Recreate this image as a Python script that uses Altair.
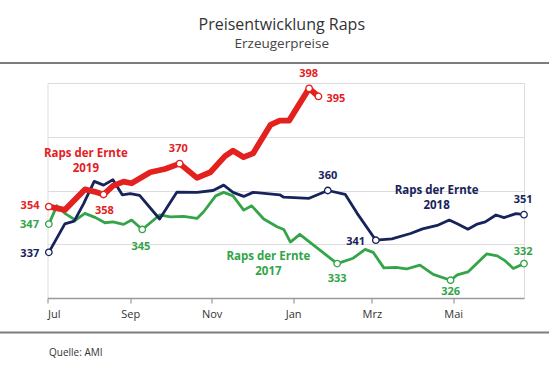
import altair as alt
import pandas as pd

# ---- data (days counted from 1 July; values in EUR/t) ----
red_days = [1, 13, 28, 35, 42, 49, 57, 63, 77, 88, 99, 112, 122, 133, 139, 147, 154, 167, 174, 181, 196, 203]
red_vals = [354, 352.8, 360.4, 359.6, 358.5, 361.7, 363.3, 362.7, 366.8, 368, 370, 364.7, 366.8, 372.8, 374.8, 372.4, 373.8, 384.4, 386, 386, 398, 395]

navy_days = [1, 13, 20, 27, 35, 42, 49, 56, 62, 69, 84, 97, 112, 124, 132, 139, 147, 154, 174, 177, 196, 210, 223, 232, 246, 258, 272, 281, 292, 301, 307, 315, 322, 328, 336, 342, 351, 357]
navy_vals = [337, 347.6, 348.6, 355, 363.4, 362, 364, 358.4, 358.8, 358.2, 349.4, 359.4, 359.3, 360, 362, 359.3, 357.8, 359.3, 358.4, 357.5, 357.1, 360, 358.6, 351.5, 341.5, 342, 344, 345.7, 347, 349, 347.6, 345.6, 347.5, 348.3, 350.9, 349.9, 351.4, 351]

green_days = [1, 7, 13, 21, 28, 36, 43, 49, 57, 63, 71, 84, 92, 102, 112, 117, 126, 132, 139, 147, 153, 162, 172, 177, 182, 189, 217, 229, 238, 244, 252, 261, 269, 279, 289, 302, 307, 315, 329, 337, 343, 349, 357]
green_vals = [347.5, 354.3, 351.5, 349, 351.5, 349.9, 348, 348.3, 347.4, 349, 345.5, 350.9, 350.2, 350.4, 349.6, 352.1, 358, 359.3, 358, 352.7, 354.3, 349.4, 346.5, 345.5, 340.8, 343.7, 332.8, 334.8, 338.1, 337, 331.2, 331.4, 330.8, 332.2, 328.8, 326.6, 328.6, 329.7, 336.4, 335.7, 333.8, 331, 332.8]

series_names = ["Raps der Ernte 2019", "Raps der Ernte 2018", "Raps der Ernte 2017"]
series_colors = ["#e3211f", "#17235b", "#33a448"]

tick_labels = ["Jul", "Sep", "Nov", "Jan", "Mrz", "Mai"]
tick_dates = ["2018-07-01", "2018-09-01", "2018-11-01", "2019-01-01", "2019-03-01", "2019-05-01"]
start = pd.Timestamp("2018-07-01")
tick_days = [(pd.Timestamp(d) - start).days for d in tick_dates]

# marked points (day, value) per series
mark_series = [0, 0, 0, 0, 0, 1, 1, 1, 1, 2, 2, 2, 2, 2]
mark_days = [1, 42, 99, 196, 203, 1, 210, 246, 357, 1, 71, 217, 302, 357]
mark_vals = [354, 358.5, 370, 398, 395, 337, 360, 341.5, 351, 347.5, 345.5, 332.8, 326.6, 332.8]

# value labels: text, anchor position (day, value), alignment
lab_text = ["354", "358", "370", "398", "395", "337", "360", "341", "351", "347", "345", "333", "326", "332"]
lab_series = mark_series
lab_days = [-6, 42.6, 98, 195.6, 209, -6.2, 210, 238, 356.4, -6.4, 70, 217, 302, 356.4]
lab_vals = [354.2, 352.3, 375.3, 403.2, 394, 336.5, 365.3, 340.9, 356.3, 347.2, 338.8, 327.2, 322.2, 337.3]
lab_align = ["right", "center", "center", "center", "left", "right", "center", "right", "center", "right", "center", "center", "center", "center"]

# series name labels (two lines each)
name_text = ["Raps der Ernte", "2019", "Raps der Ernte", "2018", "Raps der Ernte", "2017"]
name_series = [0, 0, 1, 1, 2, 2]
name_days = [28.7, 28.7, 291.5, 291.5, 165.5, 165.5]
name_vals = [373.5, 367.9, 359.7, 354.1, 335.1, 329.5]

source_text = "Quelle: AMI"

# ---- build tables ----
def line_df(days, vals, idx):
    return pd.DataFrame({"day": days, "val": vals, "series": series_names[idx]})

red_df = line_df(red_days, red_vals, 0)
navy_df = line_df(navy_days, navy_vals, 1)
green_df = line_df(green_days, green_vals, 2)

marks_df = pd.DataFrame({"day": mark_days, "val": mark_vals,
                         "series": [series_names[i] for i in mark_series]})
labels_df = pd.DataFrame({"day": lab_days, "val": lab_vals, "text": lab_text,
                          "series": [series_names[i] for i in lab_series], "align": lab_align})
names_df = pd.DataFrame({"day": name_days, "val": name_vals, "text": name_text,
                         "series": [series_names[i] for i in name_series]})
one_df = pd.DataFrame({"text": [source_text]})

FONT = "Open Sans"
W, H = 476.5, 215

label_expr = "{" + ",".join(f"'{d}':'{l}'" for d, l in zip(tick_days, tick_labels)) + "}[datum.value]"

x_enc = alt.X("day:Q",
              scale=alt.Scale(domain=[0, 357], nice=False, zero=False),
              axis=alt.Axis(values=tick_days, labelExpr=label_expr, title=None, grid=False,
                            domainColor="#9a9a9a", domainWidth=1.5, tickColor="#9a9a9a",
                            tickWidth=1.2, tickSize=5, labelFont=FONT, labelFontSize=11,
                            labelColor="#333333", labelPadding=5))
y_enc = alt.Y("val:Q",
              scale=alt.Scale(domain=[320, 400], nice=False, zero=False),
              axis=alt.Axis(values=[340, 360, 380, 400], labels=False, ticks=False,
                            domain=False, title=None, grid=True, gridColor="#dcdcdc",
                            gridWidth=1))
col = alt.Color("series:N", scale=alt.Scale(domain=series_names, range=series_colors), legend=None)
stk = alt.Stroke("series:N", scale=alt.Scale(domain=series_names, range=series_colors), legend=None)

grid_layer = alt.Chart(green_df).mark_line(opacity=0).encode(x=x_enc, y=y_enc)

green_line = alt.Chart(green_df).mark_line(strokeWidth=2.8, strokeJoin="round").encode(
    x="day:Q", y="val:Q", color=col)
navy_line = alt.Chart(navy_df).mark_line(strokeWidth=2.8, strokeJoin="round").encode(
    x="day:Q", y="val:Q", color=col)
red_line = alt.Chart(red_df).mark_line(strokeWidth=5.8, strokeJoin="round").encode(
    x="day:Q", y="val:Q", color=col)

points = alt.Chart(marks_df).mark_point(shape="circle", size=42, filled=False, fill="white",
                                        fillOpacity=1, opacity=1, strokeWidth=1.3).encode(
    x="day:Q", y="val:Q", stroke=stk)

def text_layer(align):
    return alt.Chart(labels_df).transform_filter(alt.datum.align == align).mark_text(
        font=FONT, fontSize=11, fontWeight="bold", align=align, baseline="middle").encode(
        x="day:Q", y="val:Q", text="text:N", color=col)

label_layers = [text_layer(a) for a in ["left", "center", "right"]]

names = alt.Chart(names_df).mark_text(font=FONT, fontSize=11.5, fontWeight="bold",
                                      align="center", baseline="middle").encode(
    x="day:Q", y="val:Q", text="text:N", color=col)

top_rule = alt.Chart(one_df).mark_rule(color="#7c7c7c", strokeWidth=2).encode(
    x=alt.value(-47.5), x2=alt.value(501.5), y=alt.value(-20))
bottom_rule = alt.Chart(one_df).mark_rule(color="#7c7c7c", strokeWidth=2.2).encode(
    x=alt.value(-47.5), x2=alt.value(501.5), y=alt.value(249.5))
source = alt.Chart(one_df).mark_text(font=FONT, fontSize=10, color="#333333",
                                     align="left", baseline="middle").encode(
    x=alt.value(1.5), y=alt.value(270), text="text:N")

chart = alt.layer(
    grid_layer, green_line, navy_line, red_line, points, *label_layers, names,
    top_rule, bottom_rule, source
).properties(
    width=W, height=H,
    autosize=alt.AutoSizeParams(type="none"),
    padding={"left": 47.5, "top": 83, "right": 25, "bottom": 77},
    title=alt.TitleParams(
        text="Preisentwicklung Raps", subtitle="Erzeugerpreise",
        font=FONT, fontSize=16, fontWeight="normal", color="#333333",
        subtitleFont=FONT, subtitleFontSize=13.5, subtitleColor="#444444",
        subtitlePadding=4, anchor="middle", frame="group", offset=12, dx=-4),
).configure_view(stroke=None).configure(background="white")

chart.save("out.html", embed_options={"renderer": "svg", "actions": False})
